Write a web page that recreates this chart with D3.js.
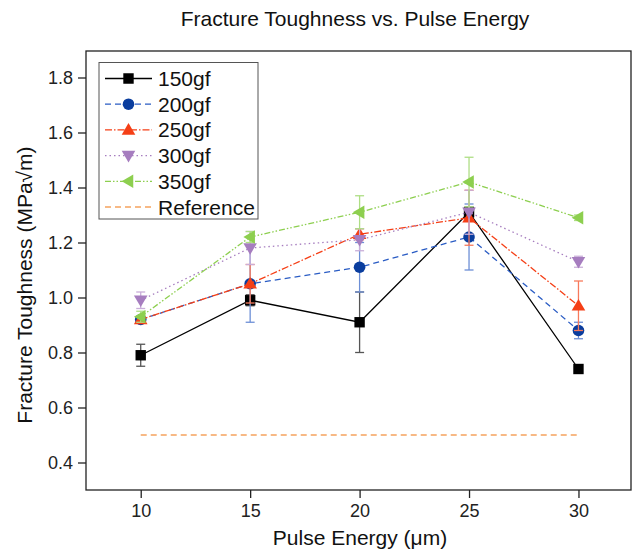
<!DOCTYPE html>
<html><head><meta charset="utf-8">
<script src="https://cdn.jsdelivr.net/npm/d3@7"></script>
<style>body{margin:0;background:#fff;} text{font-family:"Liberation Sans",Arial,sans-serif;}</style>
</head><body>
<svg id="c" width="633" height="550"></svg>
<script>
const energies = [10, 15, 20, 25, 30];
const v150 = [0.79, 0.99, 0.91, 1.31, 0.74];
const e150 = [0.04, 0.02, 0.11, 0.02, 0.01];
const v200 = [0.92, 1.05, 1.11, 1.22, 0.88];
const e200 = [0.01, 0.14, 0.09, 0.12, 0.03];
const v250 = [0.92, 1.05, 1.23, 1.29, 0.97];
const e250 = [0.01, 0.07, 0.02, 0.10, 0.09];
const v300 = [0.99, 1.18, 1.21, 1.31, 1.13];
const e300 = [0.03, 0.06, 0.04, 0.08, 0.02];
const v350 = [0.93, 1.22, 1.31, 1.42, 1.29];
const e350 = [0.02, 0.02, 0.06, 0.09, 0.01];
const refValue = 0.5;
const xTicks = [10, 15, 20, 25, 30];
const yTicks = [0.4, 0.6, 0.8, 1.0, 1.2, 1.4, 1.6, 1.8];

const series = [
  {name:"150gf", v:v150, e:e150, color:"#000000", ecolor:"#555555", sym:"square", dash:null},
  {name:"200gf", v:v200, e:e200, color:"#0a3d9e", lcolor:"#2a5cc4", ecolor:"#6d8fd6", sym:"circle", dash:"6,4"},
  {name:"250gf", v:v250, e:e250, color:"#f53f16", ecolor:"#f77a5c", sym:"up", dash:"7,2,1.5,2"},
  {name:"300gf", v:v300, e:e300, color:"#a67dbf", ecolor:"#c9aed9", sym:"down", dash:"1.5,3"},
  {name:"350gf", v:v350, e:e350, color:"#8dcf4f", ecolor:"#aede85", sym:"left", dash:"6,2,1.5,2,1.5,2"}
];

const svg = d3.select("#c");
const L = 86, R = 631, T = 51, B = 490;
const x = d3.scaleLinear().domain([7.5, 32.4]).range([L, R]);
const y = d3.scaleLinear().domain([0.3, 1.9]).range([B, B - 1.6*275]);

svg.append("text").attr("x", 355).attr("y", 26).attr("text-anchor","middle")
  .attr("font-size", 21).attr("fill","#111").text("Fracture Toughness vs. Pulse Energy");

// axes
const xAxis = svg.append("g").attr("transform", `translate(0,${B})`)
  .call(d3.axisBottom(x).tickValues(xTicks).tickSize(8).tickPadding(6).tickFormat(d3.format("d")));
const yAxis = svg.append("g").attr("transform", `translate(${L},0)`)
  .call(d3.axisLeft(y).tickValues(yTicks).tickSize(8).tickPadding(5).tickFormat(d3.format(".1f")));
[xAxis, yAxis].forEach(g => {
  g.select(".domain").remove();
  g.selectAll(".tick line").attr("stroke","#222").attr("stroke-width",1.3);
  g.selectAll(".tick text").attr("font-size",18).attr("fill","#222")
    .style("font-family","'Liberation Sans',Arial,sans-serif");
});
svg.append("rect").attr("x",L).attr("y",T).attr("width",R-L).attr("height",B-T)
  .attr("fill","none").attr("stroke","#222").attr("stroke-width",1.3);

svg.append("text").attr("x", 360).attr("y", 545).attr("text-anchor","middle")
  .attr("font-size", 21).attr("fill","#111").text("Pulse Energy (μm)");
svg.append("text").attr("transform", `translate(32,285) rotate(-90)`).attr("text-anchor","middle")
  .attr("font-size", 21).attr("fill","#111").text("Fracture Toughness (MPa√m)");

// reference line
svg.append("line").attr("x1", x(10)).attr("x2", x(30)).attr("y1", y(refValue)).attr("y2", y(refValue))
  .attr("stroke","#f5a35e").attr("stroke-width",1.3).attr("stroke-dasharray","6,4");

function symPath(sym, cx, cy) {
  const s = 5.2;
  if (sym === "square") return `M${cx-s},${cy-s}h${2*s}v${2*s}h${-2*s}Z`;
  const t = 6.8;
  if (sym === "up") return `M${cx},${cy-t}L${cx+t},${cy+t*0.7}L${cx-t},${cy+t*0.7}Z`;
  if (sym === "down") return `M${cx},${cy+t}L${cx+t},${cy-t*0.7}L${cx-t},${cy-t*0.7}Z`;
  if (sym === "left") return `M${cx-t},${cy}L${cx+t*0.7},${cy-t}L${cx+t*0.7},${cy+t}Z`;
}
function drawMarker(g, sym, cx, cy, color) {
  if (sym === "circle") g.append("circle").attr("cx",cx).attr("cy",cy).attr("r",5.8).attr("fill",color);
  else g.append("path").attr("d", symPath(sym, cx, cy)).attr("fill", color);
}

const line = d3.line().x(d => x(d.x)).y(d => y(d.y));
series.forEach(s => {
  const g = svg.append("g");
  const pts = energies.map((e,i) => ({x:e, y:s.v[i], err:s.e[i]}));
  pts.forEach(p => {
    const cx = x(p.x), y1 = y(p.y + p.err), y2 = y(p.y - p.err);
    g.append("line").attr("x1",cx).attr("x2",cx).attr("y1",y1).attr("y2",y2).attr("stroke",s.ecolor).attr("stroke-width",1.3);
    [y1,y2].forEach(yy => g.append("line").attr("x1",cx-4.5).attr("x2",cx+4.5).attr("y1",yy).attr("y2",yy).attr("stroke",s.ecolor).attr("stroke-width",1.3));
  });
  g.append("path").datum(pts).attr("d", line).attr("fill","none")
    .attr("stroke", s.lcolor || s.color).attr("stroke-width",1.3)
    .attr("stroke-dasharray", s.dash);
  pts.forEach(p => drawMarker(g, s.sym, x(p.x), y(p.y), s.color));
});

// legend
const lg = svg.append("g");
lg.append("rect").attr("x",99).attr("y",62.5).attr("width",159).attr("height",156.5)
  .attr("fill","#fff").attr("stroke","#555").attr("stroke-width",1);
const legendItems = series.concat([{name:"Reference", color:"#f5a35e", dash:"6,4", sym:null}]);
legendItems.forEach((s,i) => {
  const yy = 78.5 + i*25.7;
  lg.append("line").attr("x1",105).attr("x2",152).attr("y1",yy).attr("y2",yy)
    .attr("stroke", s.lcolor || s.color).attr("stroke-width",1.3).attr("stroke-dasharray", s.dash);
  if (s.sym) drawMarker(lg, s.sym, 128.5, yy, s.color);
  lg.append("text").attr("x",158).attr("y",yy+7.5).attr("font-size",21).attr("fill","#111").text(s.name);
});
</script>
</body></html>
